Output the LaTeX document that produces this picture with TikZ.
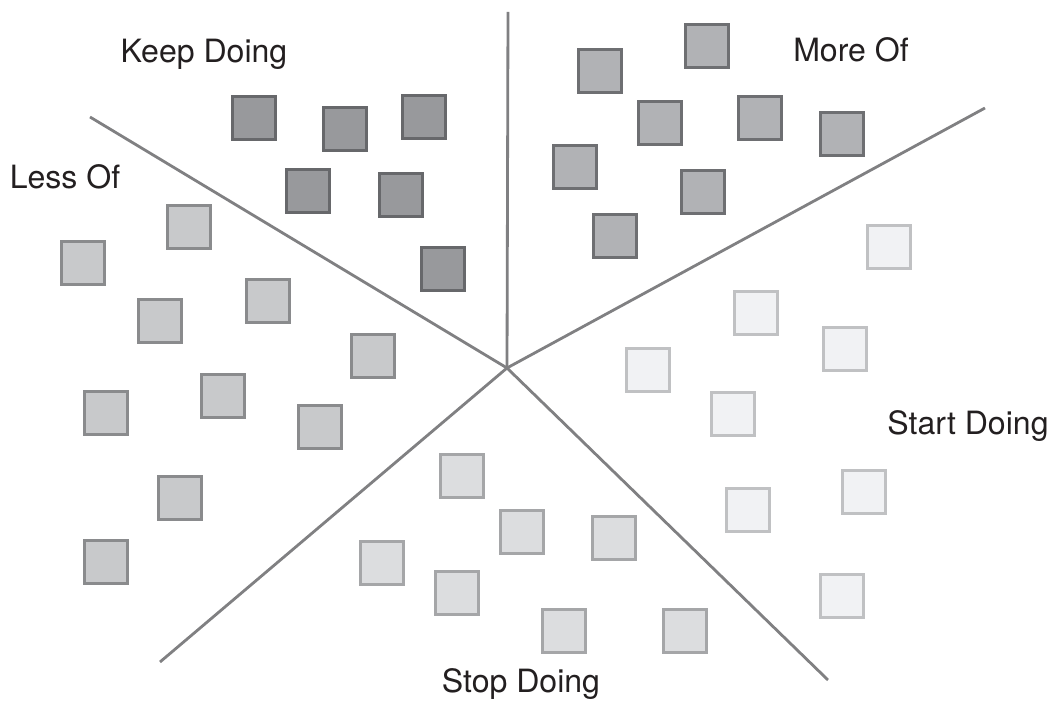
\documentclass[tikz,border=0pt]{standalone}
\usepackage{fontspec}
\setmainfont{TeX Gyre Heros}
\usepackage{tikz}

\definecolor{spoke}{HTML}{808082}
\definecolor{txt}{HTML}{231F20}
\tikzset{
  card/.style={draw, line width=2pt, minimum size=1.07cm, inner sep=0pt},
  keepcard/.style={card, fill={rgb,255:red,152;green,153;blue,156}, draw={rgb,255:red,103;green,104;blue,107}},
  morecard/.style={card, fill={rgb,255:red,177;green,178;blue,181}, draw={rgb,255:red,110;green,111;blue,114}},
  lesscard/.style={card, fill={rgb,255:red,200;green,201;blue,203}, draw={rgb,255:red,138;green,139;blue,141}},
  stopcard/.style={card, fill={rgb,255:red,220;green,221;blue,223}, draw={rgb,255:red,165;green,166;blue,168}},
  startcard/.style={card, fill={rgb,255:red,241;green,242;blue,244}, draw={rgb,255:red,192;green,193;blue,195}},
  heading/.style={anchor=base, text=txt, font=\fontsize{22.8}{27}\selectfont},
}

\begin{document}
\begin{tikzpicture}[x=0.025cm, y=-0.025cm]
			%%%%% START %%%%%
			\useasboundingbox (0, 0) rectangle (1055, 707);
			
			% spokes
			\coordinate (hub) at (507, 368);
			\coordinate (top) at (508, 12);
			\coordinate (right) at (985, 108);
			\coordinate (bottomright) at (828, 680);
			\coordinate (bottomleft) at (160, 662);
			\coordinate (left) at (90, 117);
			\draw[line width=2pt, color=spoke] (hub) -- (top);
			\draw[line width=2pt, color=spoke] (hub) -- (right);
			\draw[line width=2pt, color=spoke] (hub) -- (bottomright);
			\draw[line width=2pt, color=spoke] (hub) -- (bottomleft);
			\draw[line width=2pt, color=spoke] (hub) -- (left);
			
			% keep doing
			\node[keepcard] (keep1) at (254, 118) {};
			\node[keepcard] (keep2) at (345, 129) {};
			\node[keepcard] (keep3) at (424, 117) {};
			\node[keepcard] (keep4) at (308, 191) {};
			\node[keepcard] (keep5) at (401, 195) {};
			\node[keepcard] (keep6) at (443, 269) {};
			
			% more of
			\node[morecard] (more1) at (707, 46) {};
			\node[morecard] (more2) at (600, 71) {};
			\node[morecard] (more3) at (660, 123) {};
			\node[morecard] (more4) at (760, 118) {};
			\node[morecard] (more5) at (842, 134) {};
			\node[morecard] (more6) at (575, 167) {};
			\node[morecard] (more7) at (703, 192) {};
			\node[morecard] (more8) at (615, 236) {};
			
			% less of
			\node[lesscard] (less1) at (189, 227) {};
			\node[lesscard] (less2) at (83, 263) {};
			\node[lesscard] (less3) at (160, 321) {};
			\node[lesscard] (less4) at (268, 301) {};
			\node[lesscard] (less5) at (373, 356) {};
			\node[lesscard] (less6) at (106, 413) {};
			\node[lesscard] (less7) at (223, 396) {};
			\node[lesscard] (less8) at (320, 427) {};
			\node[lesscard] (less9) at (180, 498) {};
			\node[lesscard] (less10) at (106, 562) {};
			
			% start doing
			\node[startcard] (start1) at (889, 247) {};
			\node[startcard] (start2) at (756, 313) {};
			\node[startcard] (start3) at (845, 349) {};
			\node[startcard] (start4) at (648, 370) {};
			\node[startcard] (start5) at (733, 414) {};
			\node[startcard] (start6) at (748, 510) {};
			\node[startcard] (start7) at (864, 492) {};
			\node[startcard] (start8) at (842, 596) {};
			
			% stop doing
			\node[stopcard] (stop1) at (462, 476) {};
			\node[stopcard] (stop2) at (522, 532) {};
			\node[stopcard] (stop3) at (614, 538) {};
			\node[stopcard] (stop4) at (382, 563) {};
			\node[stopcard] (stop5) at (457, 593) {};
			\node[stopcard] (stop6) at (564, 631) {};
			\node[stopcard] (stop7) at (685, 631) {};
			
			% headings
			\node[heading] (keeplabel) at (204, 63) {Keep Doing};
			\node[heading] (morelabel) at (851, 62) {More Of};
			\node[heading] (lesslabel) at (65, 189) {Less Of};
			\node[heading] (startlabel) at (968, 435) {Start Doing};
			\node[heading] (stoplabel) at (521, 693) {Stop Doing};
			
			%%%%% END %%%%%
\end{tikzpicture}
\end{document}
